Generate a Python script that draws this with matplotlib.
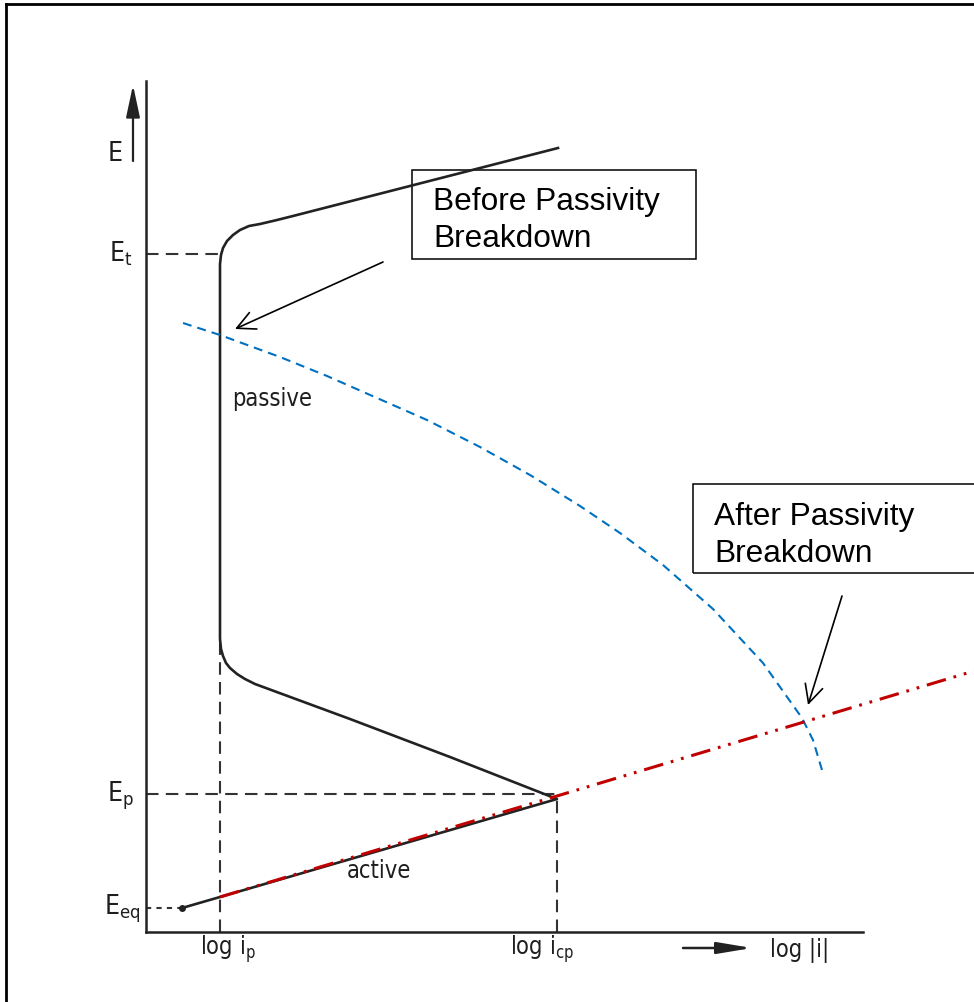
import numpy as np
import matplotlib
matplotlib.use("Agg")
import matplotlib.pyplot as plt
from matplotlib.lines import Line2D
from matplotlib.patches import Rectangle

# polarisation curve (x = log|i|, y = E, arbitrary units, origin at the axes corner)
curve_logi = [36, 74, 411, 304, 204, 109, 99, 91, 84, 80, 77, 75, 74,
              74, 75, 77, 81, 87, 94, 103, 114, 131, 147, 412]
curve_E = [24, 35, 133, 175, 213, 248, 253, 258, 264, 269, 276, 283, 293,
           668, 677, 684, 691, 697, 702, 706, 708, 712, 716, 784]

# characteristic values
E_t = 678
E_p = 138
E_eq = 24
logi_p = 74
logi_cp = 411
logi_eq = 36

# blue dashed curve (breakdown potential)
blue_logi = [37, 74, 134, 181, 231, 281, 334, 384, 434, 474, 517, 567, 617, 656, 667, 676]
blue_E = [609, 597, 575, 556, 534, 512, 485, 457, 426, 399, 367, 323, 269, 214, 192, 162]

# red extrapolated active line
red_logi = [74, 828]
red_E = [35, 261]

black = "#222222"
dash_col = "#333333"
label_font = dict(family="DejaVu Sans", fontstretch="condensed", color="#1e1e1e")

fig = plt.figure(figsize=(9.74, 10.03), dpi=100)
ax = fig.add_axes([146 / 974, 70 / 1003, 717 / 974, 851 / 1003])
ax.set_xlim(0, 717)
ax.set_ylim(0, 851)
for s in ["top", "right"]:
    ax.spines[s].set_visible(False)
for s in ["left", "bottom"]:
    ax.spines[s].set_linewidth(1.8)
    ax.spines[s].set_color(black)
ax.set_xticks([])
ax.set_yticks([])

# dashed guide lines
ax.plot([0, logi_p], [E_t, E_t], color=dash_col, lw=1.5, dashes=(6, 3.5))
ax.plot([0, logi_cp], [E_p, E_p], color=dash_col, lw=1.5, dashes=(6, 3.5))
ax.plot([logi_p, logi_p], [0, 293], color=dash_col, lw=1.5, dashes=(6, 3.5))
ax.plot([logi_cp, logi_cp], [0, E_p], color=dash_col, lw=1.5, dashes=(6, 3.5))
ax.plot([0, logi_eq], [E_eq, E_eq], color=dash_col, lw=1.5, dashes=(2.5, 2.5))

# main curve
ax.plot(curve_logi, curve_E, color=black, lw=1.9, solid_joinstyle="round")
ax.plot([logi_eq], [E_eq], "o", color=black, ms=4)

# overlays
ax.plot(blue_logi, blue_E, color="#0070C0", lw=1.5, dashes=(4.3, 2.9), clip_on=False)
ax.plot(red_logi, red_E, color="#C00000", lw=2.2, dashes=(6.5, 2.6, 0.9, 2.6, 0.9, 2.6),
        clip_on=False)

# axis labels from the scanned sketch
ax.annotate("", xy=(-13, 847), xytext=(-13, 771), annotation_clip=False,
            arrowprops=dict(arrowstyle="-|>,head_length=1.4,head_width=0.3", lw=1.6,
                            color=black, mutation_scale=14, shrinkA=0, shrinkB=0))
ax.text(-31, 779, "E", fontsize=19, ha="center", va="center", **label_font)
ax.text(-14, 671, r"E$_\mathregular{t}$", fontsize=19, ha="right", va="baseline", **label_font)
ax.text(-12, 131, r"E$_\mathregular{p}$", fontsize=19, ha="right", va="baseline", **label_font)
ax.text(-6, 18, r"E$_\mathregular{eq}$", fontsize=19, ha="right", va="baseline", **label_font)
ax.text(54, -22, r"log i$_\mathregular{p}$", fontsize=17, ha="left", va="baseline", **label_font)
ax.text(364, -22, r"log i$_\mathregular{cp}$", fontsize=17, ha="left", va="baseline", **label_font)
ax.text(624, -24, "log |i|", fontsize=17, ha="left", va="baseline", **label_font)
ax.annotate("", xy=(606, -16), xytext=(537, -16), annotation_clip=False,
            arrowprops=dict(arrowstyle="-|>,head_length=1.5,head_width=0.25", lw=1.8,
                            color=black, mutation_scale=14, shrinkA=0, shrinkB=0))
ax.text(86, 527, "passive", fontsize=17, ha="left", va="baseline", **label_font)
ax.text(201, 55, "active", fontsize=17, ha="left", va="baseline", **label_font)

# callout boxes
box_font = dict(family="Liberation Sans", fontsize=22.8, color="black")
ax.add_patch(Rectangle((266, 673), 284, 89, fill=False, lw=1.1, ec="black", clip_on=False))
ax.text(287, 723, "Before Passivity", ha="left", va="baseline", **box_font)
ax.text(287, 686, "Breakdown", ha="left", va="baseline", **box_font)
ax.add_patch(Rectangle((547, 359), 320, 89, fill=False, lw=1.1, ec="black", clip_on=False))
ax.text(568, 408, "After Passivity", ha="left", va="baseline", **box_font)
ax.text(568, 371, "Breakdown", ha="left", va="baseline", **box_font)

arrow_kw = dict(arrowstyle="->,head_length=0.5,head_width=0.25", lw=1.2, color="black",
                mutation_scale=26, shrinkA=0, shrinkB=0)
ax.annotate("", xy=(89, 603), xytext=(237, 670), arrowprops=arrow_kw, annotation_clip=False)
ax.annotate("", xy=(662, 227), xytext=(696, 336), arrowprops=arrow_kw, annotation_clip=False)

# frame on top and left edges of the picture
fig.add_artist(Line2D([6 / 974, 1], [1 - 5 / 1003, 1 - 5 / 1003], color="black", lw=2))
fig.add_artist(Line2D([6 / 974, 6 / 974], [0, 1 - 5 / 1003], color="black", lw=2))

fig.savefig("out.png", dpi=100)
